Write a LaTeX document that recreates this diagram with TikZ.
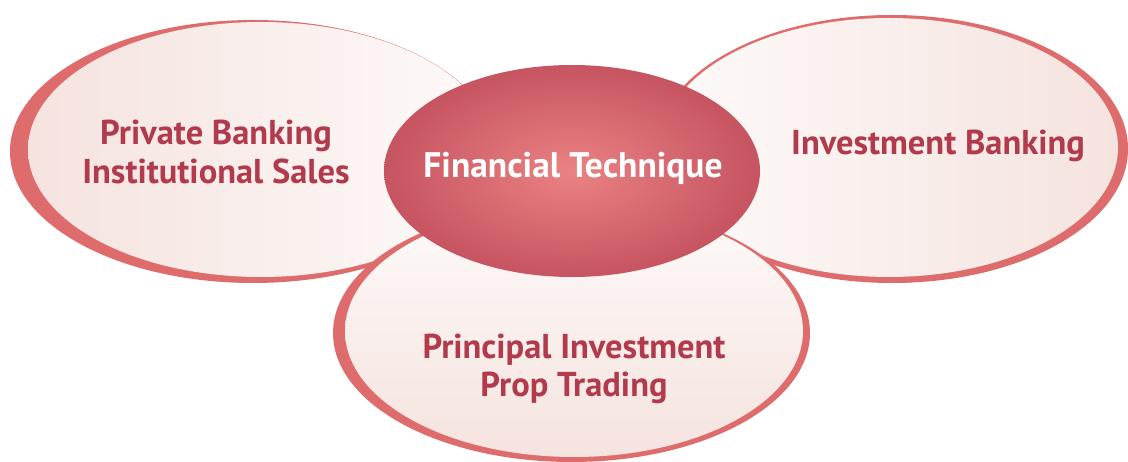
\documentclass[tikz,border=0pt]{standalone}
\usepackage{fontspec}
\setmainfont{PT Sans}
\definecolor{rim}{HTML}{DF6C6C}
\definecolor{paledark}{HTML}{F5E3DE}
\definecolor{palelight}{HTML}{FDFAF9}
\definecolor{wine}{HTML}{B13B4D}
\definecolor{coreout}{HTML}{C65461}
\definecolor{corein}{HTML}{EA8282}

\begin{document}
\begin{tikzpicture}[x=1pt,y=-1pt,
  rimfill/.style={fill=rim},
  field/.style={text=wine,font=\bfseries\fontsize{34.5}{38.5}\selectfont,align=center},
  core/.style={text=white,font=\bfseries\fontsize{35.5}{38.5}\selectfont}]
\useasboundingbox (0,0) rectangle (1128,462);

% left petal
\fill[rimfill] (253,151.5) ellipse [x radius=243pt,y radius=131.5pt];
\shade[left color=paledark,right color=palelight] (261,149.5) ellipse [x radius=233pt,y radius=127.5pt];
% right petal
\fill[rimfill] (892,149) ellipse [x radius=236pt,y radius=134pt];
\shade[left color=palelight,right color=paledark] (889,147.5) ellipse [x radius=229pt,y radius=129.5pt];
% bottom petal
\fill[rimfill] (571.5,333) ellipse [x radius=238.5pt,y radius=129pt];
\shade[top color=palelight,bottom color=paledark] (574,331) ellipse [x radius=229pt,y radius=126pt];
% centre
\shade[inner color=corein,outer color=coreout] (572,171) ellipse [x radius=188pt,y radius=106pt];

\node[field] (private) at (216,152) {Private Banking\\Institutional Sales};
\node[field,anchor=base] (invest) at (938,155) {Investment Banking};
\node[field] (principal) at (574,369) {Principal Investment\\Prop Trading};
\node[core,anchor=base] (technique) at (573,178) {Financial Technique};
\end{tikzpicture}
\end{document}
